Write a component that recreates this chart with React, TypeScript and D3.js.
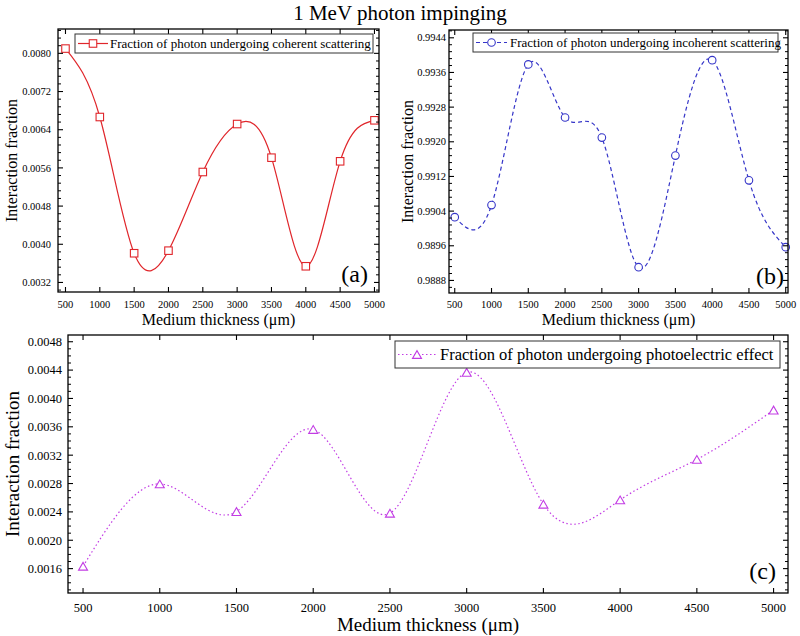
import React from "react";
import * as d3 from "d3";

const thickness = [500, 1000, 1500, 2000, 2500, 3000, 3500, 4000, 4500, 5000];
const coherent = [0.0081, 0.006666, 0.003812, 0.003866, 0.005514, 0.006519, 0.005814, 0.003539, 0.005738, 0.006597];
const incoherent = [0.990261, 0.990539, 0.993785, 0.99256, 0.992097, 0.989105, 0.991681, 0.993884, 0.99111, 0.989568];
const photoelectric = [0.001633, 0.002795, 0.002405, 0.003563, 0.002381, 0.004368, 0.002508, 0.002569, 0.00314, 0.003836];

const xTicks = [500, 1000, 1500, 2000, 2500, 3000, 3500, 4000, 4500, 5000];
const yTicksA = [0.0032, 0.004, 0.0048, 0.0056, 0.0064, 0.0072, 0.008];
const yTicksB = [0.9888, 0.9896, 0.9904, 0.9912, 0.992, 0.9928, 0.9936, 0.9944];
const yTicksC = [0.0016, 0.002, 0.0024, 0.0028, 0.0032, 0.0036, 0.004, 0.0044, 0.0048];

const title = "1 MeV photon impinging";
const xTitle = "Medium thickness (\u03bcm)";
const yTitle = "Interaction fraction";
const legendA = "Fraction of photon undergoing coherent scattering";
const legendB = "Fraction of photon undergoing incoherent scattering";
const legendC = "Fraction of photon undergoing photoelectric effect";

const FONT = "Liberation Serif, Times New Roman, serif";

type PanelProps = {
  box: { x0: number; x1: number; y0: number; y1: number };
  xDomain: [number, number];
  yDomain: [number, number];
  values: number[];
  yTicks: number[];
  minorPer: number;
  color: string;
  dash: string;
  marker: "square" | "circle" | "triangle";
  markerSize: number;
  legend: string;
  legendBox: { x0: number; x1: number; y0: number; y1: number; sx0: number; sx1: number; mx: number; tx: number; ty: number; fs: number };
  tickFs: number;
  yLabelEnd: number;
  xLabelBase: number;
  titleFs: number;
  xTitleBase: number;
  yTitleX: number;
  tag: string;
  tagX: number;
  tagY: number;
  strokeW: number;
};

function Marker({ kind, x, y, s, color }: { kind: string; x: number; y: number; s: number; color: string }) {
  if (kind === "square")
    return <rect x={x - s / 2} y={y - s / 2} width={s} height={s} fill="white" stroke={color} strokeWidth={1.1} />;
  if (kind === "circle") return <circle cx={x} cy={y} r={s / 2} fill="white" stroke={color} strokeWidth={1.1} />;
  const h = (s * Math.sqrt(3)) / 2;
  const pts = `${x - s / 2},${y + h / 2} ${x + s / 2},${y + h / 2} ${x},${y - h / 2}`;
  return <polygon points={pts} fill="white" stroke={color} strokeWidth={1.1} />;
}

function Panel(p: PanelProps) {
  const { box } = p;
  const x = d3.scaleLinear().domain(p.xDomain).range([box.x0, box.x1]);
  const y = d3.scaleLinear().domain(p.yDomain).range([box.y1, box.y0]);
  const line = d3
    .line<number>()
    .x((_, i) => x(thickness[i]))
    .y((d) => y(d))
    .curve(d3.curveNatural);
  const step = p.yTicks[1] - p.yTicks[0];
  const minor: number[] = [];
  const mstep = step / (p.minorPer + 1);
  for (let v = p.yTicks[0] - step; v <= p.yDomain[1] + 1e-12; v += mstep) {
    if (v >= p.yDomain[0] && v <= p.yDomain[1]) {
      const isMajor = p.yTicks.some((t) => Math.abs(t - v) < mstep / 10);
      if (!isMajor) minor.push(v);
    }
  }
  const major = 5;
  const mnr = 3;
  const lb = p.legendBox;
  const cy = (lb.y0 + lb.y1) / 2;
  return (
    <g>
      <path d={line(p.values) || ""} fill="none" stroke={p.color} strokeWidth={p.strokeW} strokeDasharray={p.dash} />
      {p.values.map((v, i) => (
        <Marker key={i} kind={p.marker} x={x(thickness[i])} y={y(v)} s={p.markerSize} color={p.color} />
      ))}
      <rect x={box.x0} y={box.y0} width={box.x1 - box.x0} height={box.y1 - box.y0} fill="none" stroke="#000" strokeWidth={1.3} />
      {xTicks.map((t) => (
        <g key={"x" + t}>
          <line x1={x(t)} x2={x(t)} y1={box.y1} y2={box.y1 - major} stroke="#000" strokeWidth={1.1} />
          <line x1={x(t)} x2={x(t)} y1={box.y0} y2={box.y0 + major} stroke="#000" strokeWidth={1.1} />
          <text x={x(t)} y={p.xLabelBase} fontSize={p.tickFs} textAnchor="middle" fontFamily={FONT}>
            {t}
          </text>
        </g>
      ))}
      {p.yTicks.map((t) => (
        <g key={"y" + t}>
          <line x1={box.x0} x2={box.x0 + major} y1={y(t)} y2={y(t)} stroke="#000" strokeWidth={1.1} />
          <line x1={box.x1} x2={box.x1 - major} y1={y(t)} y2={y(t)} stroke="#000" strokeWidth={1.1} />
          <text x={p.yLabelEnd} y={y(t)} dy="0.35em" fontSize={p.tickFs} textAnchor="end" fontFamily={FONT}>
            {t.toFixed(4)}
          </text>
        </g>
      ))}
      {minor.map((t, i) => (
        <g key={"m" + i}>
          <line x1={box.x0} x2={box.x0 + mnr} y1={y(t)} y2={y(t)} stroke="#000" strokeWidth={1} />
          <line x1={box.x1} x2={box.x1 - mnr} y1={y(t)} y2={y(t)} stroke="#000" strokeWidth={1} />
        </g>
      ))}
      <rect x={lb.x0} y={lb.y0} width={lb.x1 - lb.x0} height={lb.y1 - lb.y0} fill="white" stroke="#333" strokeWidth={1} />
      <line x1={lb.sx0} x2={lb.sx1} y1={cy} y2={cy} stroke={p.color} strokeWidth={p.strokeW} strokeDasharray={p.dash} />
      <Marker kind={p.marker} x={lb.mx} y={cy} s={p.markerSize} color={p.color} />
      <text x={lb.tx} y={lb.ty} fontSize={lb.fs} fontFamily={FONT}>
        {p.legend}
      </text>
      <text x={(box.x0 + box.x1) / 2} y={p.xTitleBase} fontSize={p.titleFs} textAnchor="middle" fontFamily={FONT}>
        {xTitle}
      </text>
      <text
        transform={`translate(${p.yTitleX},${(box.y0 + box.y1) / 2}) rotate(-90)`}
        fontSize={p.titleFs}
        textAnchor="middle"
        dy="0.35em"
        fontFamily={FONT}
      >
        {yTitle}
      </text>
      <text x={p.tagX} y={p.tagY} fontSize={24} textAnchor="end" fontFamily={FONT}>
        {p.tag}
      </text>
    </g>
  );
}

export default function App() {
  return (
    <svg
      width={800}
      height={636}
      style={{ position: "absolute", left: 0, top: 0, background: "white", fontFamily: FONT }}
    >
      <rect x={0} y={0} width={800} height={636} fill="white" />
      <text x={400} y={20} fontSize={21} textAnchor="middle" fontFamily={FONT}>
        {title}
      </text>
      <Panel
        box={{ x0: 58, x1: 379, y0: 29, y1: 292 }}
        xDomain={[391, 5066]}
        yDomain={[0.003, 0.00851]}
        values={coherent}
        yTicks={yTicksA}
        minorPer={4}
        color="#e0262b"
        dash=""
        marker="square"
        markerSize={7.5}
        legend={legendA}
        legendBox={{ x0: 75, x1: 373, y0: 34, y1: 53, sx0: 78, sx1: 108, mx: 93, tx: 110, ty: 48, fs: 13 }}
        tickFs={10.5}
        yLabelEnd={51}
        xLabelBase={308}
        titleFs={16}
        xTitleBase={325}
        yTitleX={11}
        tag="(a)"
        tagX={368}
        tagY={282}
        strokeW={1.2}
      />
      <Panel
        box={{ x0: 449, x1: 788, y0: 30, y1: 293 }}
        xDomain={[422, 5031]}
        yDomain={[0.98851, 0.99458]}
        values={incoherent}
        yTicks={yTicksB}
        minorPer={4}
        color="#3535c8"
        dash="4,3"
        marker="circle"
        markerSize={7.6}
        legend={legendB}
        legendBox={{ x0: 473, x1: 778, y0: 33, y1: 52, sx0: 476, sx1: 507, mx: 491.5, tx: 510, ty: 47, fs: 13 }}
        tickFs={10.5}
        yLabelEnd={446}
        xLabelBase={308}
        titleFs={16}
        xTitleBase={325}
        yTitleX={407}
        tag="(b)"
        tagX={784}
        tagY={284}
        strokeW={1.2}
      />
      <Panel
        box={{ x0: 68, x1: 788, y0: 335, y1: 593 }}
        xDomain={[402, 5094]}
        yDomain={[0.001256, 0.004895]}
        values={photoelectric}
        yTicks={yTicksC}
        minorPer={3}
        color="#c23ce4"
        dash="1.5,2.5"
        marker="triangle"
        markerSize={9}
        legend={legendC}
        legendBox={{ x0: 395, x1: 780, y0: 341, y1: 368, sx0: 398, sx1: 437, mx: 417, tx: 440, ty: 360, fs: 16.5 }}
        tickFs={12.5}
        yLabelEnd={62}
        xLabelBase={612}
        titleFs={19}
        xTitleBase={631}
        yTitleX={12}
        tag="(c)"
        tagX={776}
        tagY={579}
        strokeW={1.2}
      />
    </svg>
  );
}
